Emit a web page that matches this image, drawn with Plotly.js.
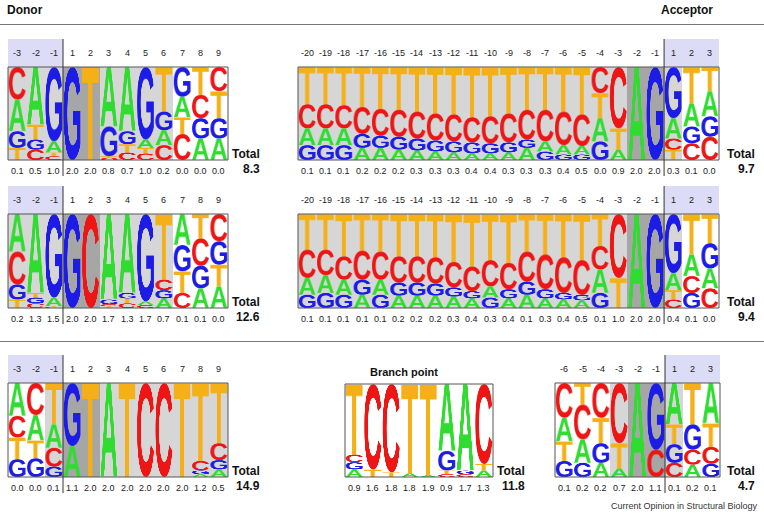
<!DOCTYPE html>
<html><head><meta charset="utf-8">
<script src="https://cdn.plot.ly/plotly-3.0.1.min.js"></script>
<style>html,body{margin:0;padding:0;background:#fff}#chart{width:764px;height:516px}</style>
</head><body><div id="chart"></div>
<script>
// ---------------- DATA ----------------
const donorPos = ["-3","-2","-1","1","2","3","4","5","6","7","8","9"];
const acceptorPos = ["-20","-19","-18","-17","-16","-15","-14","-13","-12","-11","-10","-9","-8","-7","-6","-5","-4","-3","-2","-1","1","2","3"];
const acceptor3Pos = ["-6","-5","-4","-3","-2","-1","1","2","3"];
const branchPos = ["1","2","3","4","5","6","7","8"];

// letters listed top to bottom, with matching frequencies
const donor1Stack = ["CAGT","ATGC","GATC","G","T","AGTC","AGTC","GATC","TGAC","GATC","TCGA","CTGA"];
const donor1Freq = [[.35,.34,.18,.13],[.62,.16,.11,.11],[.80,.12,.04,.04],[1],[1],[.64,.32,.02,.02],[.69,.14,.09,.08],[.78,.09,.06,.07],[.48,.20,.16,.16],[.32,.22,.18,.28],[.30,.25,.22,.23],[.26,.29,.22,.23]];
const donor1Info = ["0.1","0.5","1.0","2.0","2.0","0.8","0.7","1.0","0.2","0.0","0.0","0.0"];
const donor1Shade = [1,1,1,2,2,1,1,1,1,0,0,0];
const donor1Total = "8.3";

const acceptor1Stack = ["TCAG","TCAG","TCAG","TCGA","TCGA","TCGA","TCGA","TCGA","TCGA","TCGA","TCGA","TCGA","TCGA","TCAG","TCAG","TCAG","CTAG","CTA","A","G","GACT","TAGC","TAGC"];
const acceptor1Freq = [[.40,.26,.18,.16],[.40,.26,.18,.16],[.41,.25,.18,.16],[.43,.29,.15,.13],[.45,.29,.13,.13],[.46,.29,.14,.11],[.48,.29,.13,.10],[.50,.29,.12,.09],[.51,.29,.12,.08],[.54,.27,.12,.07],[.53,.29,.11,.07],[.50,.31,.11,.08],[.46,.32,.09,.13],[.46,.34,.11,.09],[.48,.36,.10,.06],[.51,.34,.09,.06],[.28,.27,.25,.20],[.66,.23,.11],[1],[1],[.55,.22,.12,.11],[.39,.25,.18,.18],[.26,.27,.22,.25]];
const acceptor1Info = ["0.1","0.1","0.1","0.2","0.2","0.2","0.3","0.3","0.3","0.4","0.4","0.3","0.3","0.3","0.4","0.5","0.0","0.9","2.0","2.0","0.3","0.1","0.0"];
const acceptor1Shade = [1,1,1,1,1,1,1,1,1,1,1,1,1,1,1,1,1,1,2,2,1,0,0];
const acceptor1Total = "9.7";

const donor2Stack = ["ACGT","ATGC","GATC","G","C","AGCT","AGTC","GAC","TCGA","AGTC","TCGA","CGTA"];
const donor2Freq = [[.40,.35,.16,.09],[.84,.05,.06,.05],[.89,.09,.01,.01],[1],[1],[.91,.05,.02,.02],[.84,.06,.05,.05],[.93,.04,.03],[.70,.11,.09,.10],[.33,.28,.23,.16],[.26,.29,.24,.21],[.29,.25,.23,.23]];
const donor2Info = ["0.2","1.3","1.5","2.0","2.0","1.7","1.3","1.7","0.7","0.1","0.1","0.0"];
const donor2Shade = [1,1,1,2,2,1,1,1,1,0,0,0];
const donor2Total = "12.6";

const acceptor2Stack = ["TCAG","TCAG","TCAG","TCGA","TCAG","TCGA","TCGA","TCGA","TCGA","TCGA","TCAG","TCGA","TCGA","TCGA","TCGA","TCGA","TCAG","CT","A","G","GATC","TACG","TGAC"];
const acceptor2Freq = [[.38,.30,.18,.14],[.38,.27,.19,.16],[.45,.25,.16,.14],[.39,.31,.16,.14],[.40,.30,.16,.14],[.45,.28,.14,.13],[.45,.28,.14,.13],[.46,.28,.13,.13],[.51,.27,.10,.12],[.56,.26,.08,.10],[.49,.28,.12,.11],[.52,.28,.10,.10],[.40,.32,.14,.14],[.43,.37,.10,.10],[.46,.38,.07,.09],[.49,.37,.06,.08],[.34,.25,.25,.16],[.68,.32],[1],[1],[.63,.18,.10,.09],[.43,.23,.18,.16],[.31,.27,.21,.21]];
const acceptor2Info = ["0.1","0.1","0.1","0.1","0.1","0.2","0.2","0.2","0.3","0.4","0.3","0.4","0.1","0.3","0.4","0.5","0.1","1.0","2.0","2.0","0.4","0.1","0.0"];
const acceptor2Shade = [1,1,1,1,1,1,1,1,1,1,1,1,1,1,1,1,1,1,2,2,1,0,0];
const acceptor2Total = "9.4";

const donor3Stack = ["ACTG","CATG","TACG","GA","T","A","T","C","C","T","TCGA","TCGA"];
const donor3Freq = [[.35,.23,.23,.19],[.34,.27,.19,.20],[.44,.25,.20,.11],[.67,.33],[1],[1],[1],[1],[1],[1],[.83,.10,.04,.03],[.64,.18,.10,.08]];
const donor3Info = ["0.0","0.0","0.1","1.1","2.0","2.0","2.0","2.0","2.0","2.0","1.2","0.5"];
const donor3Shade = [0,0,1,2,2,1,1,1,1,1,1,1];
const donor3Total = "14.9";

const branchStack = ["TCGA","CT","CT","TA","TA","AGTC","AGC","CTA"];
const branchFreq = [[.76,.08,.08,.08],[.92,.08],[.95,.05],[.96,.04],[.98,.02],[.72,.21,.04,.03],[.93,.04,.03],[.86,.07,.07]];
const branchInfo = ["0.9","1.6","1.8","1.8","1.9","0.9","1.7","1.3"];
const branchShade = [0,0,0,0,0,0,0,0];
const branchTotal = "11.8";

const acceptor3Stack = ["CATG","TCAG","CTGA","CTA","A","GC","ATGC","TGCA","ATCG"];
const acceptor3Freq = [[.37,.25,.21,.17],[.23,.37,.25,.15],[.37,.27,.21,.15],[.64,.27,.09],[1],[.71,.29],[.44,.21,.20,.15],[.44,.27,.16,.13],[.43,.25,.18,.14]];
const acceptor3Info = ["0.1","0.2","0.2","0.7","2.0","1.1","0.1","0.2","0.1"];
const acceptor3Shade = [0,0,0,1,2,2,1,0,0];
const acceptor3Total = "4.7";

// ---------------- STYLE / LAYOUT ----------------
const W = 764, H = 516;
const COLORS = {A:'#30dc30', C:'#ee1515', G:'#1c1ce6', T:'#f5b018'};
const SHADES = ['rgba(255,255,255,1)', '#d6d6d6', '#a6a6a6'];
const FONT = 'Liberation Sans, Arial, Helvetica, sans-serif';

const panels = [
  {pos: donorPos, stack: donor1Stack, freq: donor1Freq, info: donor1Info, shade: donor1Shade, total: donor1Total, box:[8,228,67,160], band:[0,2], div:2.5, totX:262},
  {pos: acceptorPos, stack: acceptor1Stack, freq: acceptor1Freq, info: acceptor1Info, shade: acceptor1Shade, total: acceptor1Total, box:[298,719,67,160], band:[20,22], div:19.5, totX:757},
  {pos: donorPos, stack: donor2Stack, freq: donor2Freq, info: donor2Info, shade: donor2Shade, total: donor2Total, box:[8,228,214,308], band:[0,2], div:2.5, totX:262},
  {pos: acceptorPos, stack: acceptor2Stack, freq: acceptor2Freq, info: acceptor2Info, shade: acceptor2Shade, total: acceptor2Total, box:[298,719,214,308], band:[20,22], div:19.5, totX:757},
  {pos: donorPos, stack: donor3Stack, freq: donor3Freq, info: donor3Info, shade: donor3Shade, total: donor3Total, box:[8,228,383,477], band:[0,2], div:2.5, totX:262},
  {pos: null, stack: branchStack, freq: branchFreq, info: branchInfo, shade: branchShade, total: branchTotal, box:[345,493,384,477], band:null, div:null, totX:527},
  {pos: acceptor3Pos, stack: acceptor3Stack, freq: acceptor3Freq, info: acceptor3Info, shade: acceptor3Shade, total: acceptor3Total, box:[555,720,383,477], band:[6,8], div:5.5, totX:757}
];

function letterImage(L) {
  const cw = 160, ch = 320;
  const c = document.createElement('canvas'); c.width = cw; c.height = ch;
  const ctx = c.getContext('2d');
  ctx.font = 'bold 200px "Liberation Sans", Arial, sans-serif';
  const m = ctx.measureText(L);
  const left = m.actualBoundingBoxLeft, right = m.actualBoundingBoxRight;
  const asc = m.actualBoundingBoxAscent, desc = m.actualBoundingBoxDescent;
  const gw = left + right, gh = asc + desc;
  ctx.setTransform(cw / gw, 0, 0, ch / gh, 0, 0);
  ctx.fillStyle = COLORS[L];
  ctx.fillText(L, left, asc);
  return c.toDataURL('image/png');
}

function draw() {
  const IMG = {}; ['A','C','G','T'].forEach(L => IMG[L] = letterImage(L));
  const traces = [], images = [], shapes = [], annotations = [];
  const layout = {width: W, height: H, margin: {l:0,r:0,t:0,b:0}, paper_bgcolor:'#fff', plot_bgcolor:'rgba(0,0,0,0)', showlegend:false, bargap:0};

  panels.forEach((p, k) => {
    const n = p.stack.length;
    const sfx = k === 0 ? '' : String(k + 1);
    const xa = 'x' + sfx, ya = 'y' + sfx;
    const [x0, x1, y0, y1] = p.box;
    const hpx = y1 - y0;
    layout['xaxis' + sfx] = {domain:[x0 / W, x1 / W], range:[-0.5, n - 0.5], visible:false, fixedrange:true, anchor: ya};
    layout['yaxis' + sfx] = {domain:[1 - y1 / H, 1 - y0 / H], range:[0, 1], visible:false, fixedrange:true, anchor: xa};
    const idx = p.stack.map((_, i) => i);
    traces.push({type:'bar', x: idx, y: idx.map(() => 1), width: 1, xaxis: xa, yaxis: ya,
      marker:{color: p.shade.map(s => SHADES[s]), line:{width:0}}, hoverinfo:'skip'});
    // letters
    p.stack.forEach((letters, i) => {
      const f = p.freq[i];
      const sum = f.reduce((a, b) => a + b, 0);
      let top = 1;
      letters.split('').forEach((L, j) => {
        const h = f[j] / sum;
        images.push({source: IMG[L], xref: xa, yref: ya, x: i - 0.5 + 0.04, y: top, sizex: 0.92, sizey: h,
          xanchor:'left', yanchor:'top', sizing:'stretch', layer:'above'});
        top -= h;
      });
    });
    // header band
    if (p.band) {
      shapes.push({type:'rect', xref: xa, yref: ya + ' domain', x0: p.band[0] - 0.5, x1: p.band[1] + 0.5, y0: 1, y1: 1 + 28 / hpx,
        fillcolor:'#dcdcf6', line:{width:0}, layer:'below'});
    }
    // box border
    shapes.push({type:'rect', xref: xa + ' domain', yref: ya + ' domain', x0:0, x1:1, y0:0, y1:1, line:{color:'#555', width:1}, fillcolor:'rgba(0,0,0,0)'});
    if (p.div !== null) {
      shapes.push({type:'line', xref: xa, yref: ya + ' domain', x0: p.div, x1: p.div, y0: -16 / hpx, y1: 1 + 28 / hpx, line:{color:'#333', width:1}});
    }
    // position labels
    if (p.pos) {
      p.pos.forEach((t, i) => annotations.push({xref: xa, yref: ya + ' domain', x: i, y: 1 + 14 / hpx, text: t, showarrow:false,
        font:{family: FONT, size: 9, color:'#222'}, xanchor:'center', yanchor:'middle'}));
    }
    // info values
    p.info.forEach((t, i) => annotations.push({xref: xa, yref: ya + ' domain', x: i, y: -11 / hpx, text: t, showarrow:false,
      font:{family: FONT, size: 9, color:'#222'}, xanchor:'center', yanchor:'middle'}));
    // totals
    annotations.push({xref:'paper', yref:'paper', x: p.totX / W, y: 1 - (y1 - 6) / H, text:'<b>Total</b>', showarrow:false,
      font:{family: FONT, size: 12, color:'#111'}, xanchor:'right', yanchor:'middle'});
    annotations.push({xref:'paper', yref:'paper', x: p.totX / W, y: 1 - (y1 + 9) / H, text:'<b>' + p.total + '</b>', showarrow:false,
      font:{family: FONT, size: 12, color:'#111'}, xanchor:'right', yanchor:'middle'});
  });

  // section headings & rules
  annotations.push({xref:'paper', yref:'paper', x: 5 / W, y: 1 - 10 / H, text:'<b>Donor</b>', showarrow:false, font:{family: FONT, size: 12, color:'#111'}, xanchor:'left', yanchor:'middle'});
  annotations.push({xref:'paper', yref:'paper', x: 659 / W, y: 1 - 10 / H, text:'<b>Acceptor</b>', showarrow:false, font:{family: FONT, size: 12, color:'#111'}, xanchor:'left', yanchor:'middle'});
  annotations.push({xref:'paper', yref:'paper', x: 404 / W, y: 1 - 372 / H, text:'<b>Branch point</b>', showarrow:false, font:{family: FONT, size: 11, color:'#111'}, xanchor:'center', yanchor:'middle'});
  annotations.push({xref:'paper', yref:'paper', x: 760 / W, y: 1 - 506 / H, text:'Current Opinion in Structural Biology', showarrow:false, font:{family: FONT, size: 9, color:'#333'}, xanchor:'right', yanchor:'middle'});
  shapes.push({type:'line', xref:'paper', yref:'paper', x0:0, x1:1, y0: 1 - 24.5 / H, y1: 1 - 24.5 / H, line:{color:'#777', width:1}});
  shapes.push({type:'line', xref:'paper', yref:'paper', x0:0, x1:1, y0: 1 - 341.5 / H, y1: 1 - 341.5 / H, line:{color:'#777', width:1}});

  layout.images = images; layout.shapes = shapes; layout.annotations = annotations;
  Plotly.newPlot('chart', traces, layout, {displayModeBar:false, staticPlot:true});
}

if (document.fonts && document.fonts.load) {
  document.fonts.load('bold 200px "Liberation Sans"').then(draw, draw);
} else { draw(); }
</script>
</body></html>
